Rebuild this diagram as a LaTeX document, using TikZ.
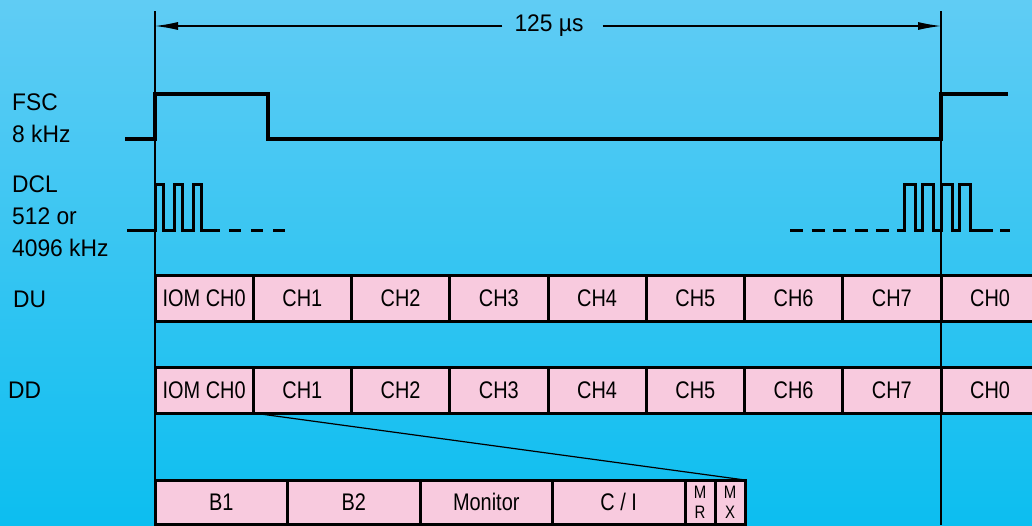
\documentclass[tikz,border=0pt]{standalone}
\usepackage{fontspec}
\setmainfont{Liberation Sans}[FakeStretch=0.95]
\newfontfamily\slotfont{Liberation Sans}[FakeStretch=0.83]
\usepackage{tikz}
\usetikzlibrary{positioning,arrows.meta}

\definecolor{skytop}{RGB}{96,204,244}
\definecolor{skybottom}{RGB}{12,190,240}
\definecolor{slotpink}{RGB}{248,202,222}

\tikzset{
  slot/.style={draw, line width=3pt, fill=slotpink, outer sep=0pt, inner sep=0pt,
    minimum width=98.25pt, minimum height=46pt, font=\slotfont\fontsize{24}{28}\selectfont},
  field/.style={slot, minimum width=132.5pt, minimum height=44pt},
  bitslot/.style={slot, minimum width=30pt, minimum height=44pt, align=center,
    font=\slotfont\fontsize{18}{20}\selectfont},
  signal/.style={line width=3pt},
  guide/.style={line width=1.2pt},
  siglabel/.style={anchor=base west, inner sep=0pt, font=\fontsize{24}{28}\selectfont},
}

\begin{document}
\begin{tikzpicture}[x=1pt,y=-1pt]
    \shade[top color=skytop, bottom color=skybottom] (0,0) rectangle (1032,525);
    \clip (0,0) rectangle (1032,525);

    % Frame of 125 us between two FSC edges
    \coordinate (tl) at (155,26);
    \coordinate (tr) at (941,26);
    \draw[guide] (155,11) -- (155,525);
    \draw[guide] (941,11) -- (941,525);
    \node[inner sep=0pt, font=\fontsize{24}{28}\selectfont] (period) at (549,26) {125 µs};
    \draw[guide, -{Latex[length=23pt,width=8pt]}] ([xshift=-12pt]period.west) -- (tl);
    \draw[guide, -{Latex[length=23pt,width=8pt]}] ([xshift=19pt]period.east) -- (tr);

    % Signal names
    \node[siglabel] (fsc) at (12,110) {FSC};
    \node[siglabel] (fscrate) at (12,142) {8 kHz};
    \node[siglabel] (dcl) at (12,192) {DCL};
    \node[siglabel] (dclrate) at (12,224) {512 or};
    \node[siglabel] (dclrateb) at (12,256) {4096 kHz};
    \node[siglabel] (du) at (13,307) {DU};
    \node[siglabel] (dd) at (8,398) {DD};

    % FSC - one pulse per frame
    \draw[signal, line width=3.5pt] (125,139) -- (155,139) -- (155,94) -- (268,94) -- (268,139)
        -- (941,139) -- (941,94) -- (1008,94);

    % DCL - clock bursts at frame start
    \draw[signal] (127,230) foreach \x in {155,174,193} { -- (\x,230) -- (\x,184) -- (\x+8.5,184) -- (\x+8.5,230) } -- (220,230);
    \draw[signal, dash pattern=on 12pt off 10pt] (229,230) -- (285,230);
    \draw[signal, dash pattern=on 13pt off 8.5pt] (790,230) -- (890,230);
    \draw[signal] (897,230) foreach \x in {904,922.5,941,959} { -- (\x,230) -- (\x,184) -- (\x+11,184) -- (\x+11,230) } -- (993,230);
    \draw[signal] (1000,230) -- (1010,230);

    % DU - eight channels
    \node[slot] (du0) at (204.125,298.5) {IOM CH0};
    \foreach \ch [count=\i] in {CH1,CH2,CH3,CH4,CH5,CH6,CH7,CH0} {
        \pgfmathtruncatemacro\prev{\i-1}
        \node[slot, right=0pt of du\prev] (du\i) {\ch};
    }

    % DD - eight channels
    \node[slot] (dd0) at (204.125,390) {IOM CH0};
    \foreach \ch [count=\i] in {CH1,CH2,CH3,CH4,CH5,CH6,CH7,CH0} {
        \pgfmathtruncatemacro\prev{\i-1}
        \node[slot, right=0pt of dd\prev] (dd\i) {\ch};
    }

    % Channel 0 in detail
    \node[field] (b1) at (221.25,502) {B1};
    \node[field, right=0pt of b1] (b2) {B2};
    \node[field, right=0pt of b2] (mon) {Monitor};
    \node[field, right=0pt of mon] (ci) {C / I};
    \node[bitslot, right=0pt of ci] (mr) {M\\R};
    \node[bitslot, right=0pt of mr] (mx) {M\\X};
    \draw[guide] (dd0.south east) -- (mx.north east);
\end{tikzpicture}
\end{document}
